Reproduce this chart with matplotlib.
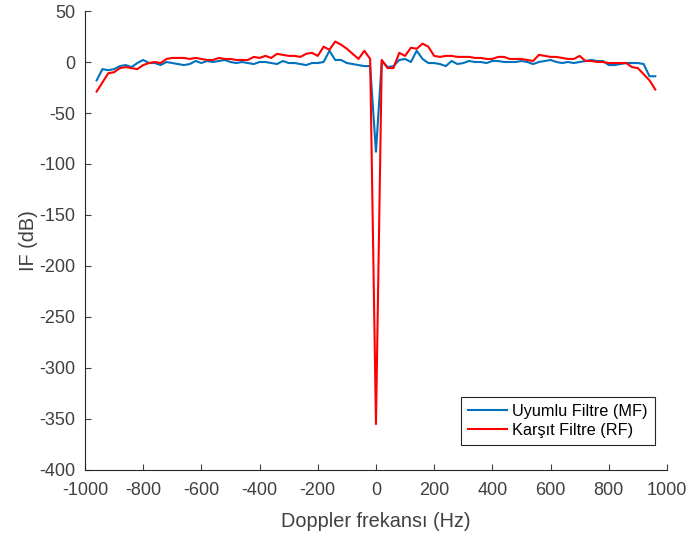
import numpy as np
import matplotlib
matplotlib.use("Agg")
import matplotlib.pyplot as plt

plt.rcParams['font.family'] = ['Liberation Sans', 'DejaVu Sans']
plt.rcParams['axes.unicode_minus'] = False

doppler_hz = list(range(-960, 961, 20))

mf_db = [-18, -7, -8, -7, -4, -3, -5, -1, 2, -1,
         -1, -3, 0, -1, -2, -3, -2, 1, -1, 1,
         0, 1, 2, 0, -1, 0, -1, -2, 0, 0,
         -1, -2, 1, -1, -1, -2, -3, -1, -1, 0,
         11, 2, 2, -1, -2, -3, -4, -4, -88, 1,
         -5, -4, 2, 3, 0, 11, 3, -1, -1, -2,
         -4, 1, -2, -1, 1, 0, 0, -1, 1, 1,
         0, 0, 0, 1, 0, -2, 0, 1, 2, 0,
         -1, 0, -1, 0, 1, 2, 1, 1, -3, -3,
         -2, -1, -1, -1, -2, -14, -14]

rf_db = [-29, -20, -11, -10, -6, -5, -6, -7, -3, -1,
         0, -1, 3, 4, 4, 4, 3, 4, 3, 2,
         2, 4, 3, 3, 2, 2, 2, 5, 4, 6,
         4, 8, 7, 6, 6, 5, 8, 9, 6, 15,
         12, 20, 17, 13, 8, 3, 11, 3, -355, 2,
         -6, -6, 9, 6, 14, 13, 18, 15, 6, 5,
         6, 6, 5, 5, 5, 4, 4, 3, 3, 5,
         5, 3, 3, 3, 2, 1, 7, 6, 5, 5,
         4, 3, 3, 6, 1, 1, 0, 0, -1, -1,
         -1, -1, -5, -6, -12, -18, -27]

x_ticks = list(range(-1000, 1001, 200))
y_ticks = list(range(-400, 51, 50))

fig = plt.figure(figsize=(6.92, 5.37), dpi=100)
ax = fig.add_axes([0.1228, 0.1248, 0.841, 0.8547])

ax.plot(doppler_hz, mf_db, color='#0072BD', lw=1.5, label='Uyumlu Filtre (MF)')
ax.plot(doppler_hz, rf_db, color='#FF0000', lw=1.5, label='Karşıt Filtre (RF)')

ax.set_xlim(-1000, 1000)
ax.set_ylim(-400, 50)
ax.set_xticks(x_ticks)
ax.set_yticks(y_ticks)
for s in ['top', 'right']:
    ax.spines[s].set_visible(False)
for s in ['left', 'bottom']:
    ax.spines[s].set_color('#262626')
    ax.spines[s].set_linewidth(0.8)
ax.tick_params(direction='in', length=4.5, colors='#404040', labelsize=13, width=0.8)
ax.tick_params(axis='x', pad=9)
ax.tick_params(axis='y', pad=7)
ax.set_xlabel('Doppler frekansı (Hz)', fontsize=14.3, color='#404040', labelpad=9)
ax.set_ylabel('IF (dB)', fontsize=14.3, color='#404040', labelpad=1)

leg = ax.legend(loc='lower right', fontsize=11.7, fancybox=False, framealpha=1,
                edgecolor='#262626', bbox_to_anchor=(0.979, 0.054), borderpad=0.45,
                borderaxespad=0, handlelength=2.4, handletextpad=0.3,
                labelspacing=0.25)
leg.get_frame().set_linewidth(0.8)

fig.savefig('out.png', dpi=100)
